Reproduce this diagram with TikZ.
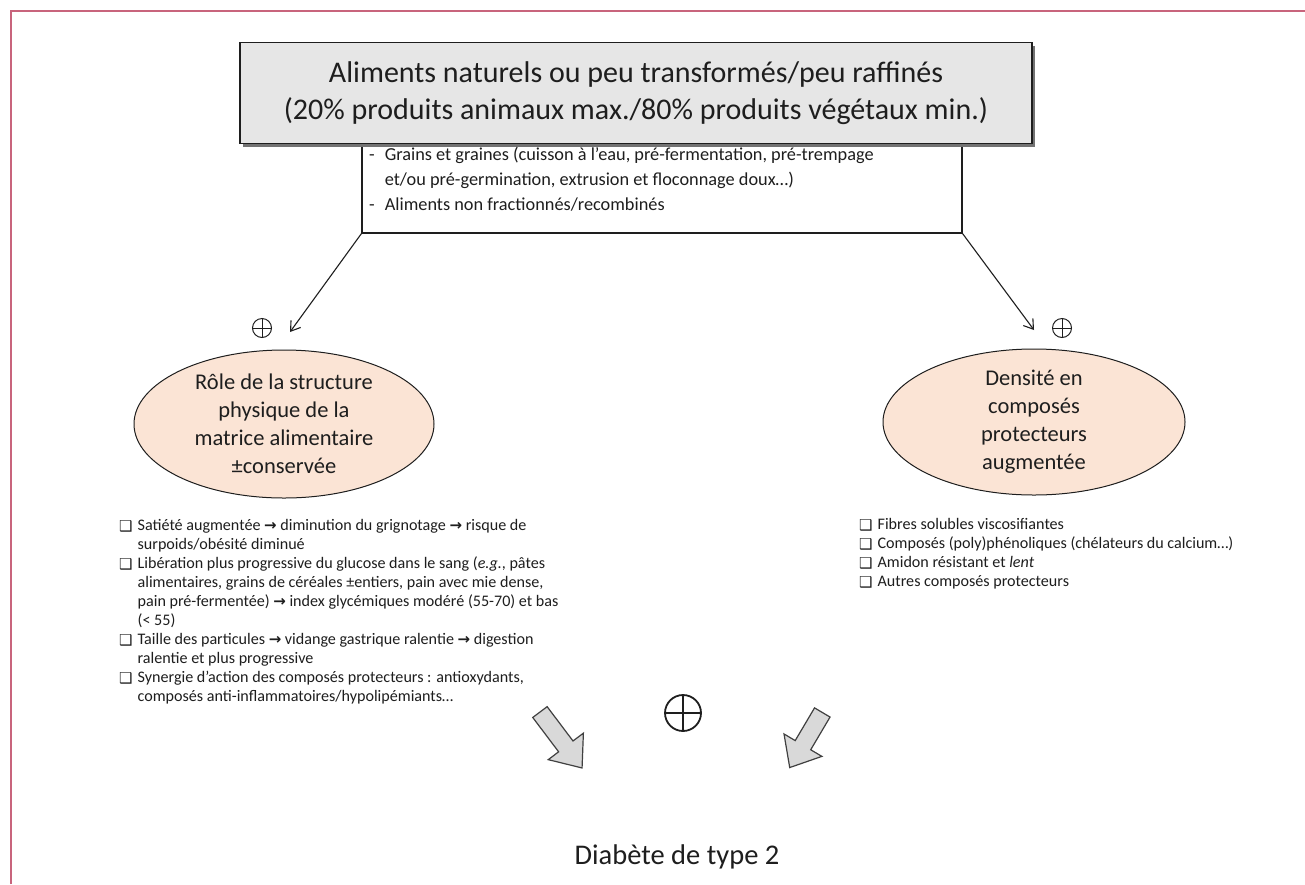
\documentclass[tikz,border=0pt]{standalone}
\usepackage{fontspec}
\setmainfont{Carlito}
\newfontfamily\dvs{DejaVu Sans}
\usetikzlibrary{shapes.geometric,arrows.meta,shadows}
\definecolor{framec}{RGB}{200,100,124}
\definecolor{boxgray}{RGB}{230,230,230}
\definecolor{peach}{RGB}{251,228,213}
\definecolor{arrgray}{RGB}{217,217,217}
\definecolor{ink}{RGB}{30,30,30}
\newcommand{\cbx}{\raisebox{-0.5pt}{\dvs\fontsize{15}{15}\selectfont ❑}}
\newcommand{\ra}{\raisebox{0.5pt}{\dvs\bfseries\fontsize{15}{15}\selectfont →}}
\begin{document}
\begin{tikzpicture}[x=1pt,y=-1pt,
  thinarrow/.style={-{Straight Barb[length=9pt,width=12pt]}, line width=1.1pt, draw=ink},
  oplus/.style={circle, draw=ink, line width=#1, inner sep=0pt,
    path picture={\draw[line width=#1] (path picture bounding box.north) -- (path picture bounding box.south)
      (path picture bounding box.west) -- (path picture bounding box.east);}},
  oval/.style={ellipse, draw=ink, line width=1pt, fill=peach, inner sep=0pt},
  ovaltext/.style={align=center, inner sep=0pt, text=ink, font=\fontsize{22.5}{28}\selectfont},
  blockarrow/.style={draw=black!75, line width=1.2pt, fill=arrgray, line join=miter},
  listtext/.style={anchor=north west, inner sep=0pt, text=ink, font=\fontsize{16.1}{19}\selectfont}
]
\useasboundingbox (0,0) rectangle (1305,884);
\fill[white] (0,0) rectangle (1305,884);
% frame
\draw[framec, line width=2.2pt] (11,884) -- (11,11) -- (1305,11);

% white box (top hidden under grey box)
\node[draw=ink, line width=1.2pt, fill=white, minimum width=600pt, minimum height=110pt, inner sep=0pt] (wbox) at (662,178) {};
% grey box
\node[draw=ink, line width=1.2pt, fill=boxgray, minimum width=792pt, minimum height=101pt, align=center,
  drop shadow={shadow xshift=3pt, shadow yshift=-3pt, fill=black!55, opacity=1},
  font=\fontsize{30}{36}\selectfont, text=ink] (gbox) at (636,93)
  {Aliments naturels ou peu transformés/peu raffinés\\[1pt](20\% produits animaux max./80\% produits végétaux min.)};
% white box text
\node[anchor=north west, inner sep=0pt, text=ink, font=\fontsize{18.3}{25}\selectfont] (wtext) at (369,143)
  {\begin{tabular}{@{}l@{\hspace{10pt}}l@{}}
  - & Grains et graines (cuisson à l’eau, pré-fermentation, pré-trempage\\
    & et/ou pré-germination, extrusion et floconnage doux…)\\
  - & Aliments non fractionnés/recombinés
  \end{tabular}};

% ellipses
\node[oval, minimum width=300pt, minimum height=148pt] (le) at (284,424) {};
\node[ovaltext] (lt) at (le.center) {Rôle de la structure\\physique de la\\matrice alimentaire\\±conservée};
\node[oval, minimum width=302pt, minimum height=146pt] (re) at (1034,422) {};
\node[ovaltext] (rt) at (re.center) {Densité en\\composés\\protecteurs\\augmentée};

% thin arrows
\coordinate (la) at (290,332);
\coordinate (ra) at (1034,330);
\draw[thinarrow] (wbox.south west) -- (la);
\draw[thinarrow] (wbox.south east) -- (ra);
\node[oplus=1pt, minimum size=19pt] (lp) at (262,328) {};
\node[oplus=1pt, minimum size=19pt] (rp) at (1062,328) {};

% lists
\node[listtext] (llist) at (119,517)
  {\begin{tabular}{@{}l@{\hspace{5pt}}l@{}}
  \cbx & Satiété augmentée \ra{} diminution du grignotage \ra{} risque de\\
       & surpoids/obésité diminué\\
  \cbx & Libération plus progressive du glucose dans le sang (\textit{e.g.}, pâtes\\
       & alimentaires, grains de céréales ±entiers, pain avec mie dense,\\
       & pain pré-fermentée) \ra{} index glycémiques modéré (55-70) et bas\\
       & (< 55)\\
  \cbx & Taille des particules \ra{} vidange gastrique ralentie \ra{} digestion\\
       & ralentie et plus progressive\\
  \cbx & Synergie d’action des composés protecteurs : antioxydants,\\
       & composés anti-inflammatoires/hypolipémiants…
  \end{tabular}};
\node[listtext] (rlist) at (859,516)
  {\begin{tabular}{@{}l@{\hspace{5pt}}l@{}}
  \cbx & Fibres solubles viscosifiantes\\
  \cbx & Composés (poly)phénoliques (chélateurs du calcium…)\\
  \cbx & Amidon résistant et \textit{lent}\\
  \cbx & Autres composés protecteurs
  \end{tabular}};

% big plus and block arrows
\node[oplus=1.8pt, minimum size=36pt] (bp) at (683,713) {};
\begin{scope}[shift={(561,740)}, rotate=-53]
  \draw[blockarrow] (-35,-9) -- (8,-9) -- (8,-22) -- (35,0) -- (8,22) -- (8,9) -- (-35,9) -- cycle;
\end{scope}
\begin{scope}[shift={(806,740)}, rotate=-120.6]
  \draw[blockarrow] (-32,-9) -- (6,-9) -- (6,-22) -- (32,0) -- (6,22) -- (6,9) -- (-32,9) -- cycle;
\end{scope}

\node[text=ink, font=\fontsize{28.5}{32}\selectfont, inner sep=0pt] (dt) at (677,857) {Diabète de type 2};
\end{tikzpicture}
\end{document}
